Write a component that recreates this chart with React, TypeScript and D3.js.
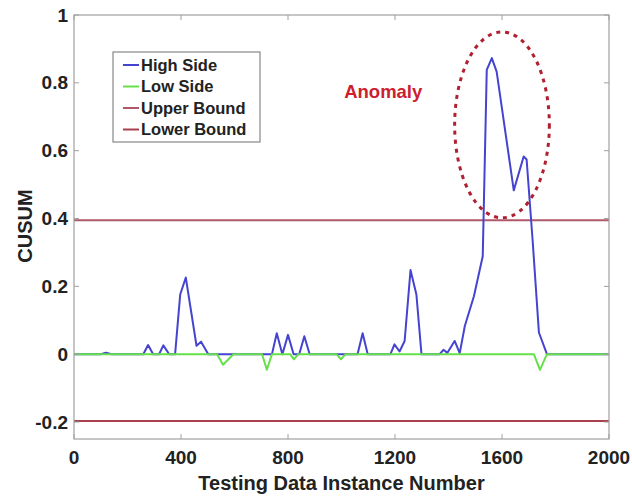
import { useEffect, useRef } from "react"
import * as d3 from "d3"

// High side CUSUM (instance, value)
const highX = [0, 100, 120, 140, 259, 277, 296, 318, 334, 356, 378, 397, 418, 458, 475, 502, 740, 758, 779, 800, 821, 842, 861, 881, 1060, 1079, 1098, 1183, 1198, 1217, 1236, 1258, 1280, 1299, 1367, 1381, 1396, 1423, 1442, 1461, 1495, 1528, 1543, 1562, 1580, 1644, 1681, 1692, 1715, 1738, 1768, 2000]
const highY = [0, 0, 0.004, 0, 0, 0.027, 0, 0, 0.026, 0, 0, 0.176, 0.226, 0.025, 0.037, 0, 0, 0.062, 0, 0.057, 0, 0, 0.053, 0, 0, 0.062, 0, 0, 0.029, 0.008, 0.039, 0.248, 0.176, 0, 0, 0.013, 0.004, 0.039, 0.003, 0.083, 0.171, 0.289, 0.838, 0.873, 0.833, 0.483, 0.583, 0.574, 0.33, 0.064, 0, 0]

// Low side CUSUM
const lowX = [0, 535, 557, 596, 703, 721, 740, 808, 822, 839, 981, 998, 1015, 1719, 1742, 1768, 2000]
const lowY = [0, 0, -0.031, 0, 0, -0.046, 0, 0, -0.015, 0, 0, -0.015, 0, 0, -0.046, 0, 0]

const upperBound = 0.395
const lowerBound = -0.197

const xTicks = [0, 400, 800, 1200, 1600, 2000]
const yTicks = [-0.2, 0, 0.2, 0.4, 0.6, 0.8, 1]

const legendLabels = ["High Side", "Low Side", "Upper Bound", "Lower Bound"]
const legendColors = ["#4444d0", "#66e04a", "#b05868", "#a8404e"]

export default function App() {
    const svgRef = useRef<SVGSVGElement>(null)

    useEffect(() => {
        if (!svgRef.current) return
        const svg = d3.select(svgRef.current)
        svg.selectAll("*").remove()

        const margin = { top: 15, right: 23, bottom: 58, left: 74 }
        const W = 632, H = 497
        const width = W - margin.left - margin.right
        const height = H - margin.top - margin.bottom
        const font = "'Liberation Sans', Arial, sans-serif"
        const axisColor = "#a0a0a0"

        const x = d3.scaleLinear().domain([0, 2000]).range([0, width])
        const y = d3.scaleLinear().domain([-0.25, 1]).range([height, 0])

        const g = svg.append("g").attr("transform", `translate(${margin.left},${margin.top})`)

        // bounds
        const bounds = [
            { v: upperBound, c: "#b05868" },
            { v: lowerBound, c: "#a8404e" },
        ]
        bounds.forEach(b => {
            g.append("line")
                .attr("x1", x(0)).attr("x2", x(2000))
                .attr("y1", y(b.v)).attr("y2", y(b.v))
                .attr("stroke", b.c).attr("stroke-width", 2)
        })

        const line = d3.line<[number, number]>().x(d => x(d[0])).y(d => y(d[1]))

        const high = highX.map((v, i) => [v, highY[i]] as [number, number])
        const low = lowX.map((v, i) => [v, lowY[i]] as [number, number])

        g.append("path").datum(high).attr("d", line)
            .attr("fill", "none").attr("stroke", "#4444d0").attr("stroke-width", 2).attr("stroke-linejoin", "round")
        g.append("path").datum(low).attr("d", line)
            .attr("fill", "none").attr("stroke", "#66e04a").attr("stroke-width", 2).attr("stroke-linejoin", "round")

        // anomaly ellipse
        const ex = x(1600), ey = y(0.676)
        const rx = x(1777) - x(1600), ry = y(0.676) - y(0.95)
        g.append("ellipse")
            .attr("cx", ex).attr("cy", ey).attr("rx", rx).attr("ry", ry)
            .attr("fill", "none").attr("stroke", "#b02030").attr("stroke-width", 3)
            .attr("stroke-dasharray", "4 5")

        g.append("text")
            .attr("x", x(1010)).attr("y", y(0.755))
            .attr("font-family", font).attr("font-weight", "bold").attr("font-size", 18.5)
            .attr("fill", "#cc2030").text("Anomaly")

        // box
        g.append("rect").attr("x", 0).attr("y", 0).attr("width", width).attr("height", height)
            .attr("fill", "none").attr("stroke", axisColor).attr("stroke-width", 1.2)

        // ticks inward on all sides
        xTicks.forEach(t => {
            g.append("line").attr("x1", x(t)).attr("x2", x(t)).attr("y1", height).attr("y2", height - 5).attr("stroke", axisColor)
            g.append("line").attr("x1", x(t)).attr("x2", x(t)).attr("y1", 0).attr("y2", 5).attr("stroke", axisColor)
            g.append("text").attr("x", x(t)).attr("y", height + 25)
                .attr("text-anchor", "middle").attr("font-family", font).attr("font-weight", "bold")
                .attr("font-size", 19).attr("fill", "#222").text(String(t))
        })
        yTicks.forEach(t => {
            g.append("line").attr("x1", 0).attr("x2", 5).attr("y1", y(t)).attr("y2", y(t)).attr("stroke", axisColor)
            g.append("line").attr("x1", width).attr("x2", width - 5).attr("y1", y(t)).attr("y2", y(t)).attr("stroke", axisColor)
            g.append("text").attr("x", -6).attr("y", y(t)).attr("dy", "0.35em")
                .attr("text-anchor", "end").attr("font-family", font).attr("font-weight", "bold")
                .attr("font-size", 19).attr("fill", "#222").text(d3.format("")(t).replace("−", "-"))
        })

        // axis labels
        svg.append("text").attr("x", margin.left + width / 2).attr("y", 490)
            .attr("text-anchor", "middle").attr("font-family", font).attr("font-weight", "bold")
            .attr("font-size", 20).attr("fill", "#222").text("Testing Data Instance Number")
        svg.append("text").attr("transform", "translate(32,226) rotate(-90)")
            .attr("text-anchor", "middle").attr("font-family", font).attr("font-weight", "bold")
            .attr("font-size", 20).attr("fill", "#222").text("CUSUM")

        // legend
        const lg = svg.append("g").attr("transform", "translate(113,52)")
        lg.append("rect").attr("width", 147).attr("height", 90)
            .attr("fill", "#fff").attr("stroke", "#888").attr("stroke-width", 1.2)
        legendLabels.forEach((lab, i) => {
            const cy = 13 + i * 21.5
            lg.append("line").attr("x1", 10).attr("x2", 26).attr("y1", cy).attr("y2", cy)
                .attr("stroke", legendColors[i]).attr("stroke-width", 2)
            lg.append("text").attr("x", 28).attr("y", cy).attr("dy", "0.36em")
                .attr("font-family", font).attr("font-weight", "bold").attr("font-size", 16.5)
                .attr("fill", "#222").text(lab)
        })
    }, [])

    return (
        <svg ref={svgRef} width={632} height={497}
            style={{ position: "absolute", left: 0, top: 0, background: "#fff" }} />
    )
}
